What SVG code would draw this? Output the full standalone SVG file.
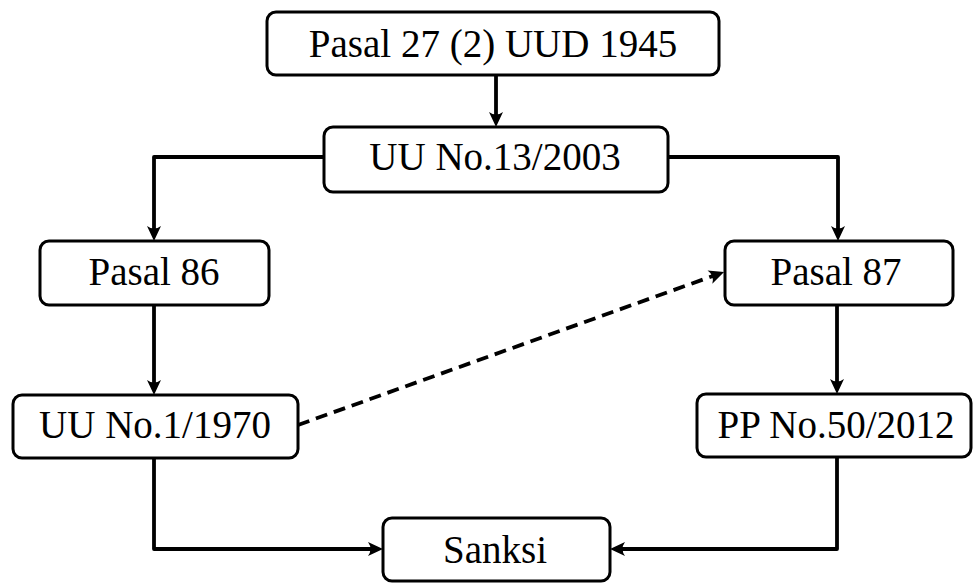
<svg xmlns="http://www.w3.org/2000/svg" width="974" height="583" viewBox="0 0 974 583">
  <style>
    .box { fill: #ffffff; stroke: #000000; stroke-width: 3; }
    .lbl { font-family: "Liberation Serif", "DejaVu Serif", serif; font-size: 39px; fill: #000000; text-anchor: middle; }
    .edge { fill: none; stroke: #000000; stroke-width: 3.8; stroke-linejoin: round; marker-end: url(#ah); }
    .dash { stroke-dasharray: 12 7; }
  </style>
  <defs>
    <!-- concave arrowhead; tip sits 6px past the path end -->
    <marker id="ah" markerUnits="userSpaceOnUse" markerWidth="24" markerHeight="18" viewBox="-10 -9 24 18" refX="-6" refY="0" orient="auto" overflow="visible">
      <path d="M0,0 L-15,-7 Q-10,0 -15,7 Z" fill="#000000"/>
    </marker>
  </defs>

  <g id="connectors">
    <path class="edge" d="M496,75 V121"/>
    <path class="edge" d="M324,157 H154 V235"/>
    <path class="edge" d="M668,157 H838 V235"/>
    <path class="edge" d="M154,305 V389"/>
    <path class="edge" d="M837,305 V388"/>
    <path class="edge" d="M154,458 V549 H377"/>
    <path class="edge" d="M837,457 V549 H616"/>
    <path class="edge dash" d="M298,425 L718.4,274"/>
  </g>

  <g id="n-uud">
    <rect class="box" x="267" y="12" width="452" height="63" rx="9"/>
    <text class="lbl" x="493" y="57">Pasal 27 (2) UUD 1945</text>
  </g>
  <g id="n-uu13">
    <rect class="box" x="324" y="127" width="344" height="65" rx="9"/>
    <text class="lbl" x="495" y="170">UU No.13/2003</text>
  </g>
  <g id="n-pasal86">
    <rect class="box" x="40" y="241" width="229" height="64" rx="9"/>
    <text class="lbl" x="154" y="285">Pasal 86</text>
  </g>
  <g id="n-pasal87">
    <rect class="box" x="725" y="241" width="228" height="64" rx="9"/>
    <text class="lbl" x="836" y="285">Pasal 87</text>
  </g>
  <g id="n-uu1">
    <rect class="box" x="13" y="395" width="285" height="63" rx="9"/>
    <text class="lbl" x="155" y="438">UU No.1/1970</text>
  </g>
  <g id="n-pp50">
    <rect class="box" x="697" y="394" width="274" height="63" rx="9"/>
    <text class="lbl" x="836" y="438">PP No.50/2012</text>
  </g>
  <g id="n-sanksi">
    <rect class="box" x="383" y="518" width="227" height="63" rx="9"/>
    <text class="lbl" x="495" y="563">Sanksi</text>
  </g>
</svg>
